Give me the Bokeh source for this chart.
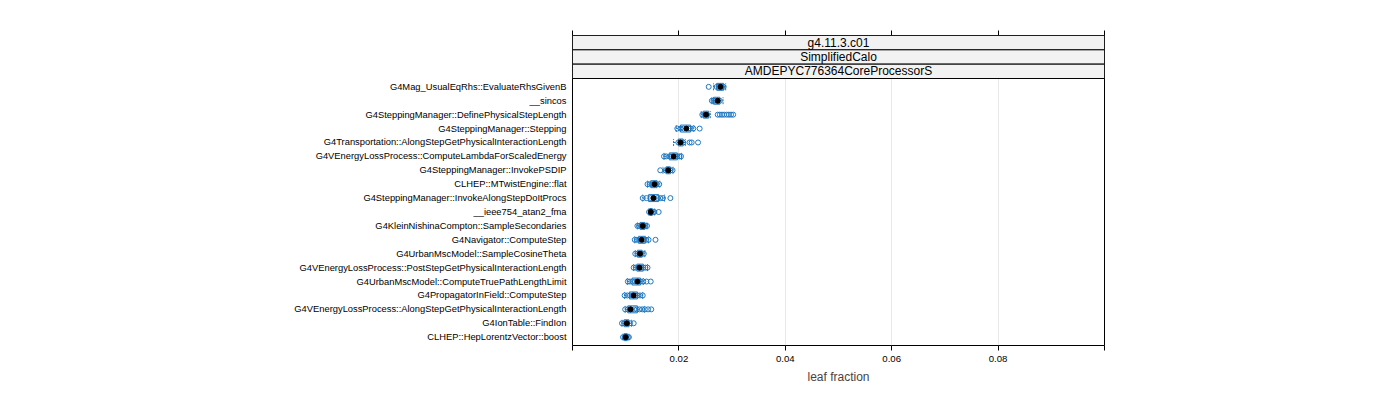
from bokeh.plotting import figure
from bokeh.models import ColumnDataSource, Range1d, LinearAxis, FixedTicker
from bokeh.core.properties import value
from bokeh.embed import file_html
from bokeh.resources import INLINE

# ---------------- data ----------------
functions = [
    "G4Mag_UsualEqRhs::EvaluateRhsGivenB",
    "__sincos",
    "G4SteppingManager::DefinePhysicalStepLength",
    "G4SteppingManager::Stepping",
    "G4Transportation::AlongStepGetPhysicalInteractionLength",
    "G4VEnergyLossProcess::ComputeLambdaForScaledEnergy",
    "G4SteppingManager::InvokePSDIP",
    "CLHEP::MTwistEngine::flat",
    "G4SteppingManager::InvokeAlongStepDoItProcs",
    "__ieee754_atan2_fma",
    "G4KleinNishinaCompton::SampleSecondaries",
    "G4Navigator::ComputeStep",
    "G4UrbanMscModel::SampleCosineTheta",
    "G4VEnergyLossProcess::PostStepGetPhysicalInteractionLength",
    "G4UrbanMscModel::ComputeTruePathLengthLimit",
    "G4PropagatorInField::ComputeStep",
    "G4VEnergyLossProcess::AlongStepGetPhysicalInteractionLength",
    "G4IonTable::FindIon",
    "CLHEP::HepLorentzVector::boost",
]

whisker_lo = [0.0265, 0.0262, 0.0242, 0.0195, 0.0190, 0.0172, 0.0170, 0.0141, 0.0132, 0.0143,
              0.0122, 0.0117, 0.0118, 0.0115, 0.0103, 0.0098, 0.0099, 0.0093, 0.0095]
q1 = [0.0271, 0.0265, 0.0246, 0.0203, 0.0199, 0.0182, 0.0176, 0.0147, 0.0143, 0.0145,
      0.0127, 0.0124, 0.0122, 0.0121, 0.0112, 0.0107, 0.0104, 0.0097, 0.0097]
median = [0.0278, 0.0273, 0.0251, 0.0214, 0.0203, 0.0190, 0.0180, 0.0154, 0.0152, 0.0147,
          0.0132, 0.0130, 0.0127, 0.0126, 0.0122, 0.0115, 0.0109, 0.0102, 0.0100]
q3 = [0.0284, 0.0277, 0.0256, 0.0222, 0.0208, 0.0197, 0.0184, 0.0159, 0.0162, 0.0150,
      0.0136, 0.0137, 0.0131, 0.0133, 0.0128, 0.0122, 0.0122, 0.0106, 0.0103]
whisker_hi = [0.0288, 0.0283, 0.0259, 0.0228, 0.0212, 0.0205, 0.0189, 0.0164, 0.0173, 0.0154,
              0.0140, 0.0143, 0.0136, 0.0141, 0.0133, 0.0132, 0.0135, 0.0111, 0.0106]
samples = [
    [0.0256, 0.0271, 0.0275, 0.0278, 0.0281, 0.0284],
    [0.0262, 0.0265, 0.0268, 0.0272, 0.0277],
    [0.0244, 0.0248, 0.0253, 0.0273, 0.0277, 0.0281, 0.0285, 0.0290, 0.0294, 0.0298, 0.0302],
    [0.0197, 0.0203, 0.0209, 0.0218, 0.0222, 0.0227, 0.0239],
    [0.0199, 0.0203, 0.0208, 0.0220, 0.0224, 0.0236],
    [0.0172, 0.0176, 0.0183, 0.0187, 0.0193, 0.0197, 0.0201, 0.0204],
    [0.0165, 0.0175, 0.0178, 0.0180, 0.0184, 0.0188],
    [0.0141, 0.0145, 0.0150, 0.0155, 0.0158, 0.0163],
    [0.0132, 0.0139, 0.0147, 0.0153, 0.0160, 0.0165, 0.0170, 0.0184],
    [0.0144, 0.0148, 0.0152, 0.0154, 0.0162],
    [0.0122, 0.0125, 0.0129, 0.0134, 0.0137, 0.0140],
    [0.0117, 0.0121, 0.0126, 0.0133, 0.0138, 0.0143, 0.0156],
    [0.0118, 0.0122, 0.0126, 0.0130, 0.0134],
    [0.0115, 0.0119, 0.0124, 0.0129, 0.0133, 0.0137, 0.0141],
    [0.0104, 0.0108, 0.0113, 0.0118, 0.0124, 0.0128, 0.0133, 0.0139, 0.0147],
    [0.0098, 0.0103, 0.0108, 0.0113, 0.0118, 0.0122, 0.0127, 0.0132],
    [0.0099, 0.0104, 0.0110, 0.0116, 0.0121, 0.0126, 0.0131, 0.0136, 0.0142, 0.0148],
    [0.0093, 0.0097, 0.0103, 0.0108, 0.0115],
    [0.0095, 0.0098, 0.0101, 0.0104, 0.0106],
]
strip_labels = ["g4.11.3.c01", "SimplifiedCalo", "AMDEPYC776364CoreProcessorS"]
x_labeled_ticks = [0.02, 0.04, 0.06, 0.08]
x_edge_ticks = [0.0, 0.1]
x_label = "leaf fraction"

# ---------------- layout constants ----------------
BLUE = "#1f78c0"
FONT = "Liberation Sans"
n = len(functions)
ypos = [n - i for i in range(n)]          # first function at the top
panel_lo, panel_hi = 0.4, n + 0.6
panel_px = 267.0
strip_px = 43.0
strip_units = strip_px / panel_px * (panel_hi - panel_lo)
y_top = panel_hi + strip_units
strip_h = strip_units / len(strip_labels)

p = figure(width=1400, height=400, x_range=Range1d(0, 0.1), y_range=Range1d(panel_lo, y_top),
           output_backend="svg", toolbar_location=None)
p.min_border_left = 572
p.min_border_right = 296
p.min_border_top = 35
p.min_border_bottom = 55
p.outline_line_color = "black"
p.outline_line_width = 1
p.background_fill_color = "white"
p.border_fill_color = "white"

# grid
p.ygrid.visible = False
p.xgrid.ticker = FixedTicker(ticks=x_labeled_ticks)
p.xgrid.grid_line_color = "#e8e8e8"
p.xgrid.grid_line_width = 1

# bottom axis
xa = p.xaxis[0]
xa.ticker = FixedTicker(ticks=x_labeled_ticks, minor_ticks=x_edge_ticks)
xa.major_tick_out = 5
xa.major_tick_in = 0
xa.minor_tick_out = 5
xa.minor_tick_in = 0
xa.minor_tick_line_color = "black"
xa.axis_line_color = None
xa.major_label_standoff = 5
xa.major_label_text_font = FONT
xa.major_label_text_font_size = "9.6px"
xa.major_label_text_color = "black"
xa.axis_label = x_label
xa.axis_label_text_font = FONT
xa.axis_label_text_font_size = "12px"
xa.axis_label_text_font_style = "normal"
xa.axis_label_standoff = 5

# top axis (ticks only, no labels)
ta = LinearAxis(ticker=FixedTicker(ticks=[], minor_ticks=x_edge_ticks[:1] + x_labeled_ticks + x_edge_ticks[1:]))
ta.minor_tick_out = 5
ta.minor_tick_in = 0
ta.minor_tick_line_color = "black"
ta.major_tick_line_color = None
ta.axis_line_color = None
p.add_layout(ta, "above")

# left axis with function names
ya = p.yaxis[0]
ya.ticker = FixedTicker(ticks=ypos)
ya.major_label_overrides = {ypos[i]: functions[i] for i in range(n)}
ya.major_tick_out = 0
ya.major_tick_in = 0
ya.minor_tick_line_color = None
ya.axis_line_color = None
ya.major_label_standoff = 6
ya.major_label_text_font = FONT
ya.major_label_text_font_size = "9.35px"
ya.major_label_text_color = "black"

# ---------------- boxes ----------------
src = ColumnDataSource(dict(y=ypos, lo=whisker_lo, q1=q1, med=median, q3=q3, hi=whisker_hi,
                            yb=[v - 0.25 for v in ypos], yt=[v + 0.25 for v in ypos]))
p.segment(x0="lo", y0="y", x1="q1", y1="y", source=src, line_color=BLUE, line_dash="2 2", line_width=1)
p.segment(x0="q3", y0="y", x1="hi", y1="y", source=src, line_color=BLUE, line_dash="2 2", line_width=1)
p.segment(x0="lo", y0="yb", x1="lo", y1="yt", source=src, line_color=BLUE, line_dash="2 1", line_width=1)
p.segment(x0="hi", y0="yb", x1="hi", y1="yt", source=src, line_color=BLUE, line_dash="2 1", line_width=1)
p.hbar(y="y", left="q1", right="q3", height=0.5, source=src, fill_color=None, line_color=BLUE, line_width=1)

# individual samples
px, py = [], []
for i, vals in enumerate(samples):
    for v in vals:
        px.append(v)
        py.append(ypos[i])
p.scatter(px, py, marker="circle", size=5, fill_color=None, line_color=BLUE, line_width=1)

# medians
p.scatter(x="med", y="y", source=src, marker="circle", size=5, fill_color="black", line_color="black")

# ---------------- strips ----------------
s_bottom = [panel_hi + (len(strip_labels) - 1 - k) * strip_h for k in range(len(strip_labels))]
s_top = [b + strip_h for b in s_bottom]
s_mid = [b + strip_h / 2 for b in s_bottom]
ssrc = ColumnDataSource(dict(b=s_bottom, t=s_top, m=s_mid, lab=strip_labels))
p.quad(left=0, right=0.1, bottom="b", top="t", source=ssrc, fill_color="#f2f2f2",
       line_color="black", line_width=1)
p.text(x=0.05, y="m", text="lab", source=ssrc, text_align="center", text_baseline="middle",
       text_font=value(FONT), text_font_size="12px", text_color="black")

open("out.html", "w").write(file_html(p, INLINE))
